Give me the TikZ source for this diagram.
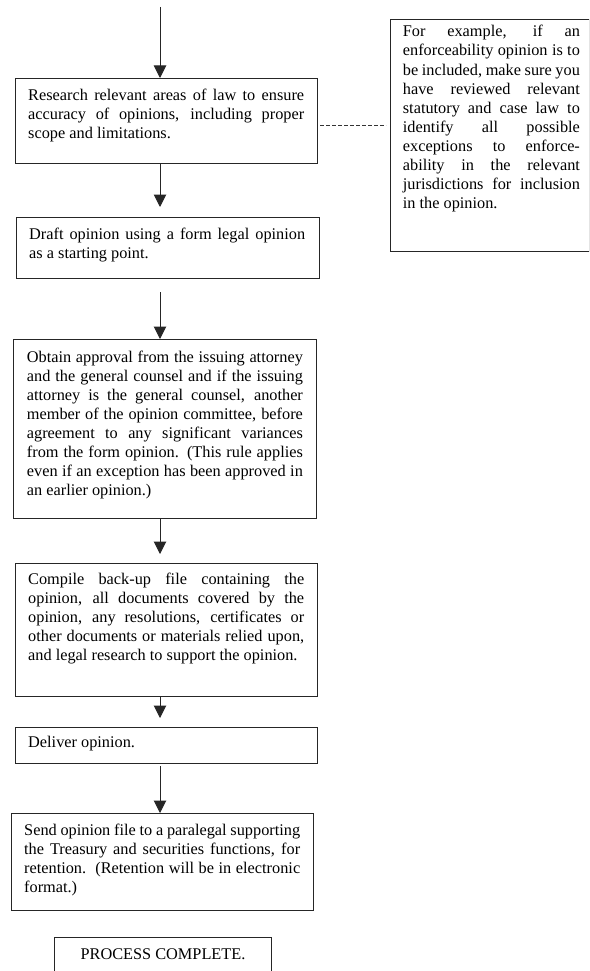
\documentclass[tikz,border=0pt]{standalone}
\usepackage{fontspec}
\setmainfont{Liberation Serif}
\usetikzlibrary{arrows.meta}
\begin{document}
\begin{tikzpicture}[x=1pt,y=-1pt,
  frame/.style={draw=black!85, line width=1pt, rectangle, inner sep=0pt, anchor=north west},
  body/.style={inner sep=0pt, anchor=north west, text width=276pt, align=justify,
    font=\fontsize{16.3}{19.1}\selectfont},
  flow/.style={-{Triangle[width=12.5pt,length=12.5pt]}, line width=1pt, draw=black!85},
  link/.style={draw=black!80, dash pattern=on 3.5pt off 2.5pt, line width=0.7pt}]
\clip (0,0) rectangle (589,971);

% vertical axis of the flow and the level of the dashed link
\coordinate (axis) at (160,0);
\coordinate (linky) at (0,125);
\coordinate (start) at (160,7);

% step boxes
\node[frame, minimum width=302pt, minimum height=85pt]  (b1) at (15,78) {};
\node[frame, minimum width=303pt, minimum height=61pt]  (b2) at (16,217) {};
\node[frame, minimum width=303pt, minimum height=179pt] (b3) at (13,339) {};
\node[frame, minimum width=302pt, minimum height=133pt] (b4) at (15,563) {};
\node[frame, minimum width=302pt, minimum height=36pt]  (b5) at (15,727) {};
\node[frame, minimum width=302pt, minimum height=97pt]  (b6) at (11,813) {};
\node[frame, minimum width=217pt, minimum height=60pt]  (b7) at (54,937) {};
\node[frame, minimum width=198.5pt, minimum height=232pt] (note) at (390,19) {};

% texts
\node[body] (t1) at ([shift={(13,8.6)}]b1.north west) {\strut Research relevant areas of law to ensure\linebreak accuracy of opinions, including proper\linebreak scope and limitations.};
\node[body] (t2) at ([shift={(13,8.6)}]b2.north west) {\strut Draft opinion using a form legal opinion\linebreak as a starting point.};
\node[body] (t3) at ([shift={(13.7,9.6)}]b3.north west) {\strut Obtain approval from the issuing attorney\linebreak and the general counsel and if the issuing\linebreak attorney is the general counsel, another\linebreak member of the opinion committee, before\linebreak agreement to any significant variances\linebreak from the form opinion. (This rule applies\linebreak even if an exception has been approved in\linebreak an earlier opinion.)};
\node[body] (t4) at ([shift={(13,7.6)}]b4.north west) {\strut Compile back-up file containing the\linebreak opinion, all documents covered by the\linebreak opinion, any resolutions, certificates or\linebreak other documents or materials relied upon,\linebreak and legal research to support the opinion.};
\node[body] (t5) at ([shift={(13,6.6)}]b5.north west) {\strut Deliver opinion.};
\node[body] (t6) at ([shift={(13,8.6)}]b6.north west) {\strut Send opinion file to a paralegal supporting\linebreak the Treasury and securities functions, for\linebreak retention.\ \ (Retention will be in electronic\linebreak format.)};
\node[anchor=base, inner sep=0pt, font=\fontsize{16.3}{19.1}\selectfont] (t7) at ([shift={(0,22)}]b7.north) {PROCESS COMPLETE.};
\node[body, text width=177pt] (tn) at ([shift={(12.7,4.3)}]note.north west) {\strut For example, if an\linebreak enforceability opinion is to\linebreak be included, make sure you\linebreak have reviewed relevant\linebreak statutory and case law to\linebreak identify all possible\linebreak exceptions to enforce-\linebreak ability in the relevant\linebreak jurisdictions for inclusion\linebreak in the opinion.};

% connectors
\draw[flow] (start) -- (b1.north -| axis);
\draw[flow, shorten >=10pt] (b1.south -| axis) -- (b2.north -| axis);
\draw[flow, shorten <=13pt] (b2.south -| axis) -- (b3.north -| axis);
\draw[flow, shorten >=9pt] (b3.south -| axis) -- (b4.north -| axis);
\draw[flow, shorten >=9pt] (b4.south -| axis) -- (b5.north -| axis);
\draw[flow, shorten <=2pt] (b5.south -| axis) -- (b6.north -| axis);
\draw[link, shorten <=2pt, shorten >=4pt] (b1.east |- linky) -- (note.west |- linky);
\end{tikzpicture}
\end{document}
